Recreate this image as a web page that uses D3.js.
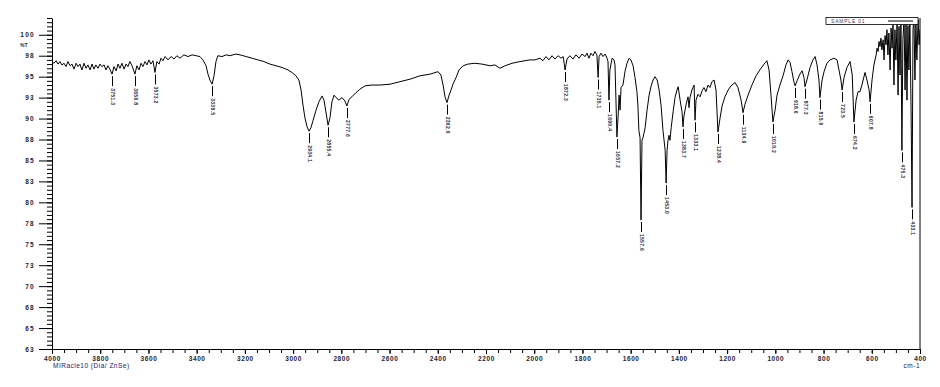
<!DOCTYPE html>
<html>
<head>
<meta charset="utf-8">
<script src="https://d3js.org/d3.v7.min.js"></script>
<style>
  body { margin: 0; background: #fff; }
  svg text { font-family: "Liberation Sans", Arial, sans-serif; }
</style>
</head>
<body>
<div id="my_dataviz"></div>
<script>
// spectrum pieces, [wavenumber cm-1, %T]
var highRegion = [
  [4000,96.8],[3992,96.6],[3983,96.9],[3975,96.5],[3967,96.8],[3959,96.4],[3950,96.6],[3942,96.2],
  [3934,96.8],[3925,96.3],[3917,96.5],[3909,95.9],[3900,96.6],[3892,96.2],[3884,96.5],[3876,95.8],
  [3867,96.6],[3859,96.0],[3851,96.4],[3842,95.8],[3834,96.5],[3826,95.9],[3818,96.4],[3809,96.0],
  [3801,96.5],[3793,96.2],[3784,96.4],[3776,95.8],[3768,96.3],[3760,95.9],[3751,95.3],[3743,96.2],
  [3734,95.7],[3726,96.5],[3718,96.0],[3710,96.6],[3701,95.9],[3693,96.5],[3685,96.2],[3677,96.8],
  [3668,96.3],[3656,95.3],[3648,96.3],[3639,95.8],[3631,96.6],[3623,96.2],[3614,96.8],[3606,96.4],
  [3598,97.0],[3590,96.5],[3581,96.9],[3573,95.5],[3565,96.8],[3556,96.5],[3548,97.2],[3540,96.9],
  [3531,97.4],[3519,97.0],[3506,97.4],[3494,97.1],[3482,97.5],[3469,97.2],[3453,97.6],[3436,97.4],
  [3419,97.6],[3403,97.5],[3386,97.4],[3374,97.0],[3361,96.3],[3353,95.3],[3345,94.6],[3336,94.1],
  [3328,95.1],[3320,96.8],[3312,97.5]
];
var chRegion = [
  [3295,97.4],[3278,97.6],[3262,97.5],[3237,97.7],[3220,97.6],[3195,97.4],[3170,97.2],[3146,97.0],
  [3121,96.8],[3096,96.5],[3071,96.3],[3046,96.1],[3021,95.8],[3005,95.5],[2988,95.1],[2976,94.6],
  [2967,93.4],[2959,91.6],[2951,90.1],[2942,89.0],[2934,88.5],[2926,88.9],[2917,89.8],[2905,91.0],
  [2893,92.0],[2880,92.7],[2872,92.2],[2864,90.8],[2855,89.2],[2847,90.1],[2839,92.0],[2830,92.8],
  [2822,92.5],[2810,92.2],[2797,92.5],[2785,92.1],[2777,91.5],[2768,92.3],[2756,92.6],[2739,93.1],
  [2723,93.5],[2702,93.9],[2673,94.0],[2640,94.0],[2598,94.1],[2557,94.4],[2515,94.7],[2474,95.1],
  [2432,95.3],[2399,95.6],[2387,95.2],[2378,94.0],[2370,92.6],[2362,91.9],[2353,92.8],[2345,93.4],
  [2337,94.1],[2324,94.9],[2312,95.8],[2295,96.3],[2275,96.5],[2246,96.6],[2217,96.5],[2183,96.3],
  [2163,96.4],[2142,96.0],[2121,96.3],[2092,96.6],[2059,96.8],[2018,97.0]
];
var midRegion = [
  [1997,97.0],[1976,97.2],[1964,96.9],[1951,97.4],[1939,97.0],[1926,97.5],[1914,97.1],[1901,97.5],
  [1889,97.2],[1880,97.4],[1872,95.8],[1864,97.1],[1852,97.5],[1839,97.1],[1827,97.6],[1814,97.2],
  [1802,97.7],[1789,97.4],[1781,97.8],[1773,97.2],[1765,97.8],[1756,97.5],[1748,98.0],[1740,97.6],
  [1735,94.9],[1731,97.4],[1723,97.8],[1715,97.4],[1706,97.7],[1698,97.2],[1694,96.8],[1690,92.2],
  [1686,95.8],[1677,97.2],[1669,97.0],[1665,96.4],[1661,92.2],[1657,87.8],[1652,90.3],[1648,92.8],
  [1644,91.0],[1640,93.7],[1632,94.0],[1623,95.7],[1615,96.6],[1607,97.2],[1599,97.0],[1590,96.3],
  [1582,94.9],[1574,93.2],[1570,91.6],[1566,88.6],[1561,87.7],[1557,77.9],[1553,87.4],[1549,87.7],
  [1540,88.9],[1532,91.0],[1524,92.7],[1515,93.9],[1507,94.6],[1499,95.0],[1490,94.6],[1482,93.4],
  [1474,91.6],[1466,88.6],[1457,86.2],[1453,82.3],[1449,86.2],[1445,87.4],[1441,88.0],[1437,87.4],
  [1432,88.9],[1424,90.8],[1416,92.5],[1408,93.4],[1403,93.8],[1395,92.2],[1387,90.8],[1383,89.0],
  [1379,90.3],[1370,91.7],[1362,92.6],[1358,91.3],[1354,92.5],[1346,93.4],[1337,94.0],[1333,89.8],
  [1329,92.2],[1321,92.9],[1312,92.6],[1304,93.3],[1296,93.7],[1288,93.2],[1279,94.0],[1271,93.7],
  [1263,94.4],[1254,94.6],[1246,93.4],[1238,88.4],[1229,90.1],[1221,91.5],[1209,92.6],[1196,93.4],
  [1184,93.9],[1167,94.3],[1155,93.7],[1142,92.2],[1134,90.7],[1126,91.7],[1113,92.8],[1097,94.0],
  [1080,95.1],[1064,95.8],[1047,96.5],[1035,96.9],[1026,95.8],[1018,92.8],[1010,89.6],[1001,91.0]
];
var fingerprint = [
  [993,92.8],[981,94.0],[968,95.1],[956,96.4],[947,97.0],[939,96.7],[931,95.6],[923,94.4],
  [918,93.9],[910,94.5],[898,95.3],[889,95.7],[881,94.9],[877,93.8],[869,94.6],[856,96.1],
  [844,97.0],[835,97.4],[827,96.4],[819,94.6],[815,92.5],[806,94.6],[798,95.6],[786,96.6],
  [773,97.0],[757,97.2],[744,97.0],[736,95.8],[728,94.6],[723,93.4],[715,94.9],[703,96.1],
  [690,96.8],[681,95.2],[674,89.6],[665,92.2],[657,93.2],[649,93.2],[641,94.0],[628,95.5],
  [620,94.6],[611,93.4],[607,92.0],[599,94.6],[591,96.4]
];
var farRegion = [
  [582,97.6],[578,98.4],[574,98.0],[570,99.2],[566,98.6],[562,99.6],[558,98.2],[553,99.4],
  [549,97.0],[545,99.9],[541,98.8],[537,100.6],[533,97.6],[529,100.2],[524,95.8],[520,100.8],
  [516,98.4],[512,101.2],[508,94.0],[504,100.6],[500,97.0],[495,101.6],[491,92.8],[487,101.0],
  [483,95.2],[479,101.3],[475,86.2],[471,99.4],[466,101.8],[462,93.4],[458,101.6],[454,92.2],
  [450,101.1],[446,95.8],[442,101.8],[437,91.0],[433,79.4],[429,100.6],[425,102.0],[421,94.6],
  [417,101.6],[413,97.0],[408,101.8],[404,98.8],[400,100.6]
];

// labelled peaks
var peakWn = [3751,3656,3573,3336,2934,2855,2777,2362,1872,1735,1690,1657,1557,1453,
  1383,1333,1238,1134,1010,918,877,815,723,674,607,475,433];
var peakText = ["3751.3","3656.8","3573.2","3336.5","2934.1","2855.4","2777.6","2362.0",
  "1872.3","1735.1","1690.4","1657.2","1557.6","1453.0","1383.7","1333.1","1238.4",
  "1134.9","1010.2","918.6","877.3","815.0","723.5","674.2","607.8","475.3","433.1"];

var xMajor = d3.range(4000, 399, -200);
var xMinor = d3.range(4000, 399, -50);
var yMajor = d3.range(62.5, 100.01, 2.5);
var yMinor = d3.range(62.5, 102.01, 0.5);

var data = highRegion.concat(chRegion, midRegion, fingerprint, farRegion);

var margin = {top: 18, right: 20, bottom: 38, left: 52},
  width = 940 - margin.left - margin.right,
  height = 387 - margin.top - margin.bottom;

var root = d3.select("#my_dataviz")
  .append("svg")
    .attr("width", 940)
    .attr("height", 387);

var svg = root.append("g")
    .attr("transform", "translate(" + margin.left + "," + margin.top + ")");

var x = d3.scaleLinear().domain([4000, 400]).range([0, width]);
var y = d3.scaleLinear().domain([62.5, 102]).range([height, 0]);

var textColor = "#1d1d33";

// y axis, minor then major
svg.append("g")
  .call(d3.axisLeft(y).tickValues(yMinor).tickSize(5).tickSizeOuter(0).tickFormat(""));
var yAx = svg.append("g")
  .call(d3.axisLeft(y).tickValues(yMajor).tickSize(13).tickPadding(4)
    .tickFormat(function(d) { return Math.round(d); }));
yAx.select(".domain").remove();
yAx.selectAll("text")
  .style("font-size", "6.5px")
  .style("font-weight", "bold")
  .style("letter-spacing", "1.3px")
  .style("fill", textColor);

// x axis
svg.append("g")
  .attr("transform", "translate(0," + height + ")")
  .call(d3.axisBottom(x).tickValues(xMinor).tickSize(4).tickSizeOuter(0).tickFormat(""));
var xAx = svg.append("g")
  .attr("transform", "translate(0," + height + ")")
  .call(d3.axisBottom(x).tickValues(xMajor).tickSize(5).tickPadding(2).tickFormat(d3.format("d")));
xAx.select(".domain").remove();
xAx.selectAll("text")
  .style("font-size", "6.5px")
  .style("font-weight", "bold")
  .style("letter-spacing", "0.6px")
  .style("fill", textColor);

// right frame
svg.append("line")
  .attr("x1", width).attr("x2", width)
  .attr("y1", 0).attr("y2", height)
  .attr("stroke", "black");

// clip for spectrum
svg.append("clipPath").attr("id", "plotClip")
  .append("rect").attr("x", 0).attr("y", 0).attr("width", width).attr("height", height);

var line = d3.line()
  .x(function(d) { return x(d[0]); })
  .y(function(d) { return y(d[1]); });

svg.append("path")
  .datum(data)
  .attr("clip-path", "url(#plotClip)")
  .attr("fill", "none")
  .attr("stroke", "black")
  .attr("stroke-width", 1)
  .attr("d", line);

// peak leaders + labels
var peaks = peakWn.map(function(w, i) {
  var p = data.find(function(d) { return d[0] === w; });
  return {wn: w, t: p[1], label: peakText[i]};
});

svg.selectAll(".leader")
  .data(peaks)
  .enter()
  .append("line")
    .attr("class", "leader")
    .attr("x1", function(d) { return Math.round(x(d.wn)) + 0.5; })
    .attr("x2", function(d) { return Math.round(x(d.wn)) + 0.5; })
    .attr("y1", function(d) { return y(d.t) + 2; })
    .attr("y2", function(d) { return y(d.t) + 12; })
    .attr("stroke", "black")
    .attr("stroke-width", 1);

svg.selectAll(".plabel")
  .data(peaks)
  .enter()
  .append("text")
    .attr("class", "plabel")
    .attr("transform", function(d) {
      return "translate(" + (Math.round(x(d.wn)) + 0.5) + "," + (y(d.t) + 14) + ") rotate(90)";
    })
    .attr("dy", "0.35em")
    .style("font-size", "5px")
    .style("font-weight", "bold")
    .style("letter-spacing", "0.3px")
    .style("fill", "#262638")
    .text(function(d) { return d.label; });

// legend box top right
root.append("rect")
  .attr("x", 826).attr("y", 17.5).attr("width", 92).attr("height", 7)
  .attr("fill", "white").attr("stroke", "black").attr("stroke-width", 0.8);
root.append("text")
  .attr("x", 831).attr("y", 23)
  .style("font-size", "5px")
  .style("letter-spacing", "0.8px")
  .style("fill", "#3a3a6a")
  .text("SAMPLE 01");
root.append("line")
  .attr("x1", 888).attr("x2", 913).attr("y1", 21).attr("y2", 21)
  .attr("stroke", "black");

// axis captions
root.append("text")
  .attr("x", 20).attr("y", 47)
  .style("font-size", "5px")
  .style("font-weight", "bold")
  .style("fill", textColor)
  .text("%T");

root.append("text")
  .attr("x", 53).attr("y", 368)
  .style("font-size", "6.5px")
  .style("letter-spacing", "0.5px")
  .style("fill", "#22226a")
  .text("MIRacle10 (Dia/ ZnSe)");

root.append("text")
  .attr("x", 920).attr("y", 368)
  .attr("text-anchor", "end")
  .style("font-size", "6.5px")
  .style("letter-spacing", "0.5px")
  .style("fill", textColor)
  .text("cm-1");
</script>
</body>
</html>
